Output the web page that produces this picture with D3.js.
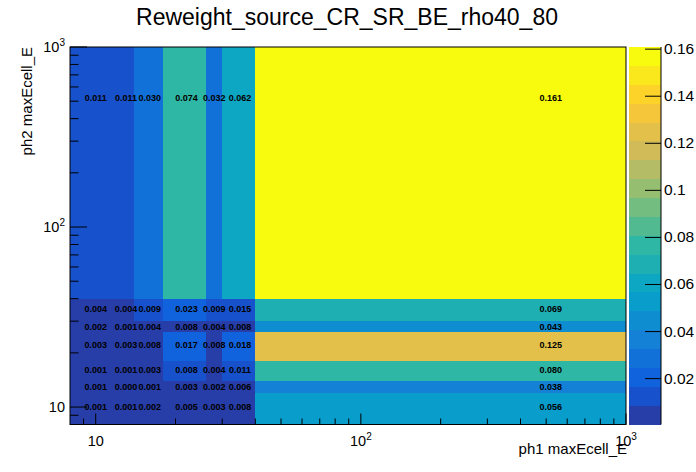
<!DOCTYPE html>
<html>
<head>
<meta charset="utf-8">
<script src="https://cdn.jsdelivr.net/npm/d3@7"></script>
<style>
  body { margin: 0; background: #fff; }
  svg { font-family: "Liberation Sans", Arial, Helvetica, sans-serif; }
</style>
</head>
<body>
<svg id="chart" width="696" height="472"></svg>
<script>
// bin edges for both axes
const xEdges = [8, 12, 14, 18, 26, 30, 40, 1000];
const yEdges = [8, 12, 14, 18, 26, 30, 40, 1000];

// bin contents, one array per ph2 maxEcell_E bin (bottom to top), ph1 bins left to right
const row8to12 = [0.0010, 0.0010, 0.0020, 0.0050, 0.0030, 0.0078, 0.0560];
const row12to14 = [0.0010, 0.0004, 0.0010, 0.0030, 0.0020, 0.0060, 0.0380];
const row14to18 = [0.0010, 0.0010, 0.0030, 0.0084, 0.0040, 0.0110, 0.0800];
const row18to26 = [0.0030, 0.0030, 0.0078, 0.0170, 0.0078, 0.0180, 0.1250];
const row26to30 = [0.0020, 0.0010, 0.0040, 0.0078, 0.0040, 0.0078, 0.0430];
const row30to40 = [0.0040, 0.0040, 0.0090, 0.0230, 0.0090, 0.0150, 0.0690];
const row40to1000 = [0.0110, 0.0110, 0.0300, 0.0740, 0.0320, 0.0620, 0.1607];
const rows = [row8to12, row12to14, row14to18, row18to26, row26to30, row30to40, row40to1000];

const zTicks = [0.02, 0.04, 0.06, 0.08, 0.1, 0.12, 0.14, 0.16];
const zTickLabels = ['0.02', '0.04', '0.06', '0.08', '0.1', '0.12', '0.14', '0.16'];
const xMajor = [10, 100, 1000];
const xMajorLabels = [['10', ''], ['10', '2'], ['10', '3']];
const xMinor = [9, 20, 30, 40, 50, 60, 70, 80, 90, 200, 300, 400, 500, 600, 700, 800, 900];
const yMajor = [10, 100, 1000];
const yMajorLabels = [['10', ''], ['10', '2'], ['10', '3']];
const yMinor = [9, 20, 30, 40, 50, 60, 70, 80, 90, 200, 300, 400, 500, 600, 700, 800, 900];

const zMin = 0.0003, zMax = 0.1607, nLevels = 20;

// ROOT kBird palette stops
const birdStops = [0.0, 0.125, 0.25, 0.375, 0.5, 0.625, 0.75, 0.875, 1.0];
const birdR = [0.2082, 0.0592, 0.0780, 0.0232, 0.1802, 0.5301, 0.8186, 0.9956, 0.9764];
const birdG = [0.1664, 0.3599, 0.5041, 0.6419, 0.7178, 0.7492, 0.7328, 0.7862, 0.9832];
const birdB = [0.5293, 0.8684, 0.8385, 0.7914, 0.6425, 0.4662, 0.3499, 0.1968, 0.0539];

const svg = d3.select('#chart');
const frame = { left: 70, right: 626, top: 47, bottom: 424.5 };

const x = d3.scaleLog().domain([8, 1000]).range([frame.left, frame.right]);
const y = d3.scaleLog().domain([8, 1000]).range([frame.bottom, frame.top]);
const zY = d3.scaleLinear().domain([zMin, zMax]).range([frame.bottom, frame.top]);

const birdColor = d3.scaleLinear()
    .domain(birdStops)
    .range(birdStops.map((s, i) => d3.rgb(birdR[i] * 255, birdG[i] * 255, birdB[i] * 255)))
    .interpolate(d3.interpolateRgb);

function levelOf(z) {
    let lvl = Math.floor(0.01 + (z - zMin) * nLevels / (zMax - zMin));
    return Math.max(0, Math.min(nLevels - 1, lvl));
}

function levelColor(lvl) {
    const idx = Math.floor((lvl + 0.99) * 255 / nLevels);
    return birdColor(Math.min(idx, 254) / 254);
}

// cells
const cells = [];
rows.forEach((row, j) => {
    row.forEach((v, i) => {
        cells.push({ x0: xEdges[i], x1: xEdges[i + 1], y0: yEdges[j], y1: yEdges[j + 1], v: v });
    });
});

svg.append('g')
    .selectAll('rect')
    .data(cells)
    .join('rect')
    .attr('x', d => x(d.x0))
    .attr('y', d => y(d.y1))
    .attr('width', d => x(d.x1) - x(d.x0))
    .attr('height', d => y(d.y0) - y(d.y1))
    .attr('fill', d => levelColor(levelOf(d.v)))
    .attr('shape-rendering', 'crispEdges');

// cell texts at linear bin centres
const fmt = d3.format('.3f');
svg.append('g')
    .selectAll('text')
    .data(cells)
    .join('text')
    .attr('x', d => x((d.x0 + d.x1) / 2))
    .attr('y', d => y((d.y0 + d.y1) / 2))
    .attr('text-anchor', 'middle')
    .attr('dominant-baseline', 'central')
    .attr('font-size', '9px')
    .attr('font-weight', 'bold')
    .attr('fill', '#000')
    .text(d => fmt(d.v));

// ticks inside the frame
const ticks = svg.append('g').attr('stroke', '#000').attr('stroke-width', 1);
xMajor.forEach(t => ticks.append('line')
    .attr('x1', x(t)).attr('x2', x(t)).attr('y1', frame.bottom).attr('y2', frame.bottom - 11));
xMinor.forEach(t => ticks.append('line')
    .attr('x1', x(t)).attr('x2', x(t)).attr('y1', frame.bottom).attr('y2', frame.bottom - 6));
yMajor.forEach(t => ticks.append('line')
    .attr('x1', frame.left).attr('x2', frame.left + 17).attr('y1', y(t)).attr('y2', y(t)));
yMinor.forEach(t => ticks.append('line')
    .attr('x1', frame.left).attr('x2', frame.left + 8.5).attr('y1', y(t)).attr('y2', y(t)));

// frame
svg.append('rect')
    .attr('x', frame.left).attr('y', frame.top)
    .attr('width', frame.right - frame.left).attr('height', frame.bottom - frame.top)
    .attr('fill', 'none').attr('stroke', '#000').attr('stroke-width', 1);

// tick labels with superscripts
xMajor.forEach((t, i) => {
    const lab = svg.append('text')
        .attr('x', x(t)).attr('y', 446)
        .attr('text-anchor', 'middle')
        .attr('font-size', '14.5px');
    lab.append('tspan').text(xMajorLabels[i][0]);
    if (xMajorLabels[i][1]) {
        lab.append('tspan').attr('dy', -6).attr('font-size', '10px').text(xMajorLabels[i][1]);
    }
});
yMajor.forEach((t, i) => {
    const lab = svg.append('text')
        .attr('x', 65).attr('y', y(t) + 5)
        .attr('text-anchor', 'end')
        .attr('font-size', '14.5px');
    lab.append('tspan').text(yMajorLabels[i][0]);
    if (yMajorLabels[i][1]) {
        lab.append('tspan').attr('dy', -6).attr('font-size', '10px').text(yMajorLabels[i][1]);
    }
});

// axis titles
svg.append('text')
    .attr('x', 627).attr('y', 454)
    .attr('text-anchor', 'end')
    .attr('font-size', '15px')
    .text('ph1 maxEcell_E');
svg.append('text')
    .attr('transform', `translate(32, ${frame.top}) rotate(-90)`)
    .attr('text-anchor', 'end')
    .attr('font-size', '15px')
    .text('ph2 maxEcell_E');

// title
svg.append('text')
    .attr('x', 347).attr('y', 25)
    .attr('text-anchor', 'middle')
    .attr('font-size', '23px')
    .text('Reweight_source_CR_SR_BE_rho40_80');

// colour bar
const bar = { left: 629, right: 661 };
const levels = d3.range(nLevels);
svg.append('g')
    .selectAll('rect')
    .data(levels)
    .join('rect')
    .attr('x', bar.left)
    .attr('width', bar.right - bar.left)
    .attr('y', l => zY(zMin + (l + 1) * (zMax - zMin) / nLevels))
    .attr('height', l => zY(zMin + l * (zMax - zMin) / nLevels) - zY(zMin + (l + 1) * (zMax - zMin) / nLevels))
    .attr('fill', l => levelColor(l))
    .attr('shape-rendering', 'crispEdges');

const zAxis = svg.append('g')
    .attr('transform', `translate(${bar.right},0)`)
    .call(d3.axisRight(zY)
        .tickValues(zTicks)
        .tickFormat((d, i) => zTickLabels[i])
        .tickSize(-16)
        .tickPadding(3));
zAxis.select('.domain').attr('d', `M0,${frame.top}V${frame.bottom}`).attr('stroke', '#000');
zAxis.selectAll('line').attr('stroke', '#000');
zAxis.selectAll('text')
    .attr('font-family', '"Liberation Sans", Arial, Helvetica, sans-serif')
    .attr('font-size', '15.5px')
    .attr('fill', '#000');
</script>
</body>
</html>
